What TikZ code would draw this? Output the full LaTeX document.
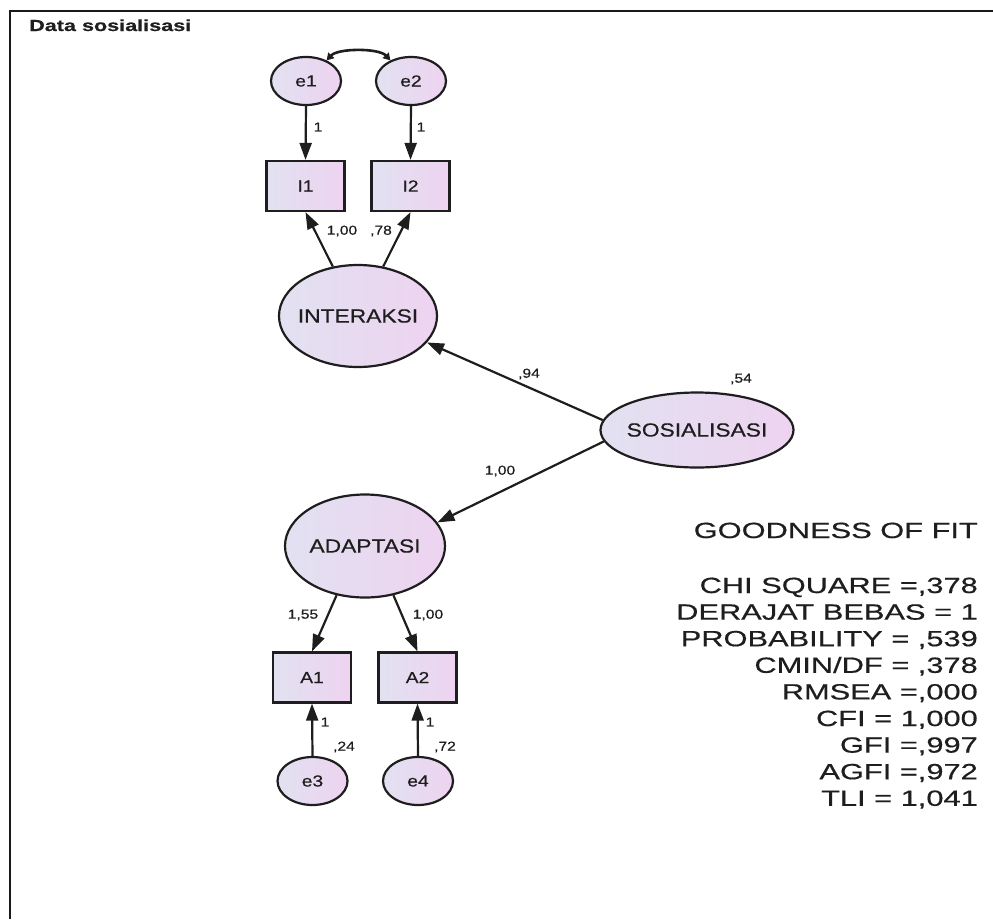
\documentclass[tikz,border=0pt]{standalone}
\usepackage{fontspec}
\setmainfont{Liberation Sans}
\newfontfamily\nodef[FakeStretch=1.2,FakeBold=0.5]{Liberation Sans}
\newfontfamily\fitf[FakeStretch=1.4,FakeBold=0.5]{Liberation Sans}
\newfontfamily\titlef[FakeStretch=1.35,FakeBold=0.4]{Liberation Sans}
\usetikzlibrary{arrows.meta,shapes.geometric}
\definecolor{lavL}{HTML}{E2E1F1}
\definecolor{lavR}{HTML}{EED3F0}
\definecolor{edgec}{HTML}{1E1E1E}
\definecolor{txtc}{HTML}{1E1E1E}
\begin{document}
\begin{tikzpicture}[x=1pt,y=-1pt,
  latent/.style={ellipse, draw=edgec, line width=2.2pt, left color=lavL, right color=lavR,
    inner xsep=-22pt, inner ysep=0pt, text=txtc, font=\nodef\fontsize{19}{22}\selectfont},
  errv/.style={latent, inner xsep=0pt, minimum width=70pt, minimum height=48pt, font=\nodef\fontsize{16}{19}\selectfont},
  obs/.style={rectangle, draw=edgec, line width=2.2pt, left color=lavL, right color=lavR,
    minimum width=78pt, minimum height=50pt, inner sep=0pt, text=txtc, font=\nodef\fontsize{16}{19}\selectfont},
  arr/.style={draw=edgec, line width=2.2pt, -{Triangle[length=17pt,width=12pt]}},
  cov/.style={draw=edgec, line width=2.6pt, {Triangle[length=7pt,width=8pt]}-{Triangle[length=7pt,width=8pt]}},
  lbl/.style={inner sep=0pt, text=txtc, font=\nodef\fontsize{13}{15}\selectfont},
  fit/.style={inner sep=0pt, anchor=base east, text=txtc, font=\fitf\fontsize{22}{26}\selectfont}
]
\useasboundingbox (0,0) rectangle (993,919);
\fill[white] (0,0) rectangle (993,919);
\draw[line width=2.4pt, draw=black!90] (10,919) -- (10,11) -- (993,11);
\node[inner sep=0pt, anchor=base west, text=txtc, font=\titlef\bfseries\fontsize{16}{19}\selectfont] (title) at (29,31) {Data sosialisasi};

% nodes
\node[errv] (e1) at (306,81) {e1};
\node[errv] (e2) at (411,81) {e2};
\node[obs] (I1) at (305.5,186) {I1};
\node[obs] (I2) at (410.5,186) {I2};
\node[latent, minimum width=158pt, minimum height=102pt] (INT) at (358,316) {INTERAKSI};
\node[latent, minimum width=193pt, minimum height=75pt] (SOS) at (697,430) {SOSIALISASI};
\node[latent, minimum width=160pt, minimum height=103pt] (ADA) at (365,546) {ADAPTASI};
\node[obs] (A1) at (312,677.5) {A1};
\node[obs] (A2) at (417.5,677.5) {A2};
\node[errv] (e3) at (312.5,781) {e3};
\node[errv] (e4) at (418,781) {e4};

% connectors
\draw[cov] (e1.45) .. controls (338,48) and (379,48) .. (e2.135);
\draw[arr] (e1.south) -- (I1.north);
\draw[arr] (e2.south) -- (I2.north);
\draw[arr] (INT.117) -- (I1.south);
\draw[arr] (INT.63) -- (I2.south);
\draw[arr] (SOS.174) -- (INT.-21);
\draw[arr] (SOS.187) -- (ADA.18);
\draw[arr] (ADA.240) -- (A1.north);
\draw[arr] (ADA.300) -- (A2.north);
\draw[arr] (e3.north) -- (A1.south);
\draw[arr] (e4.north) -- (A2.south);

% labels
\node[lbl] (l1) at (318,127) {1};
\node[lbl] (l2) at (421,127) {1};
\node[lbl] (l3) at (342,231) {1,00};
\node[lbl] (l4) at (381,231) {,78};
\node[lbl] (l5) at (529,374) {,94};
\node[lbl] (l6) at (741,379) {,54};
\node[lbl] (l7) at (500,471) {1,00};
\node[lbl] (l8) at (303,615) {1,55};
\node[lbl] (l9) at (428,615) {1,00};
\node[lbl] (l10) at (325,722) {1};
\node[lbl] (l11) at (344,747) {,24};
\node[lbl] (l12) at (430,722) {1};
\node[lbl] (l13) at (445,747) {,72};

% goodness of fit
\node[fit] (g0) at (978,538) {GOODNESS OF FIT};
\node[fit] (g1) at (978,593) {CHI SQUARE =,378};
\node[fit] (g2) at (978,619.6) {DERAJAT BEBAS = 1};
\node[fit] (g3) at (978,646.2) {PROBABILITY = ,539};
\node[fit] (g4) at (978,672.8) {CMIN/DF = ,378};
\node[fit] (g5) at (978,699.4) {RMSEA =,000};
\node[fit] (g6) at (978,726) {CFI = 1,000};
\node[fit] (g7) at (978,752.6) {GFI =,997};
\node[fit] (g8) at (978,779.2) {AGFI =,972};
\node[fit] (g9) at (978,805.8) {TLI = 1,041};
\end{tikzpicture}
\end{document}
